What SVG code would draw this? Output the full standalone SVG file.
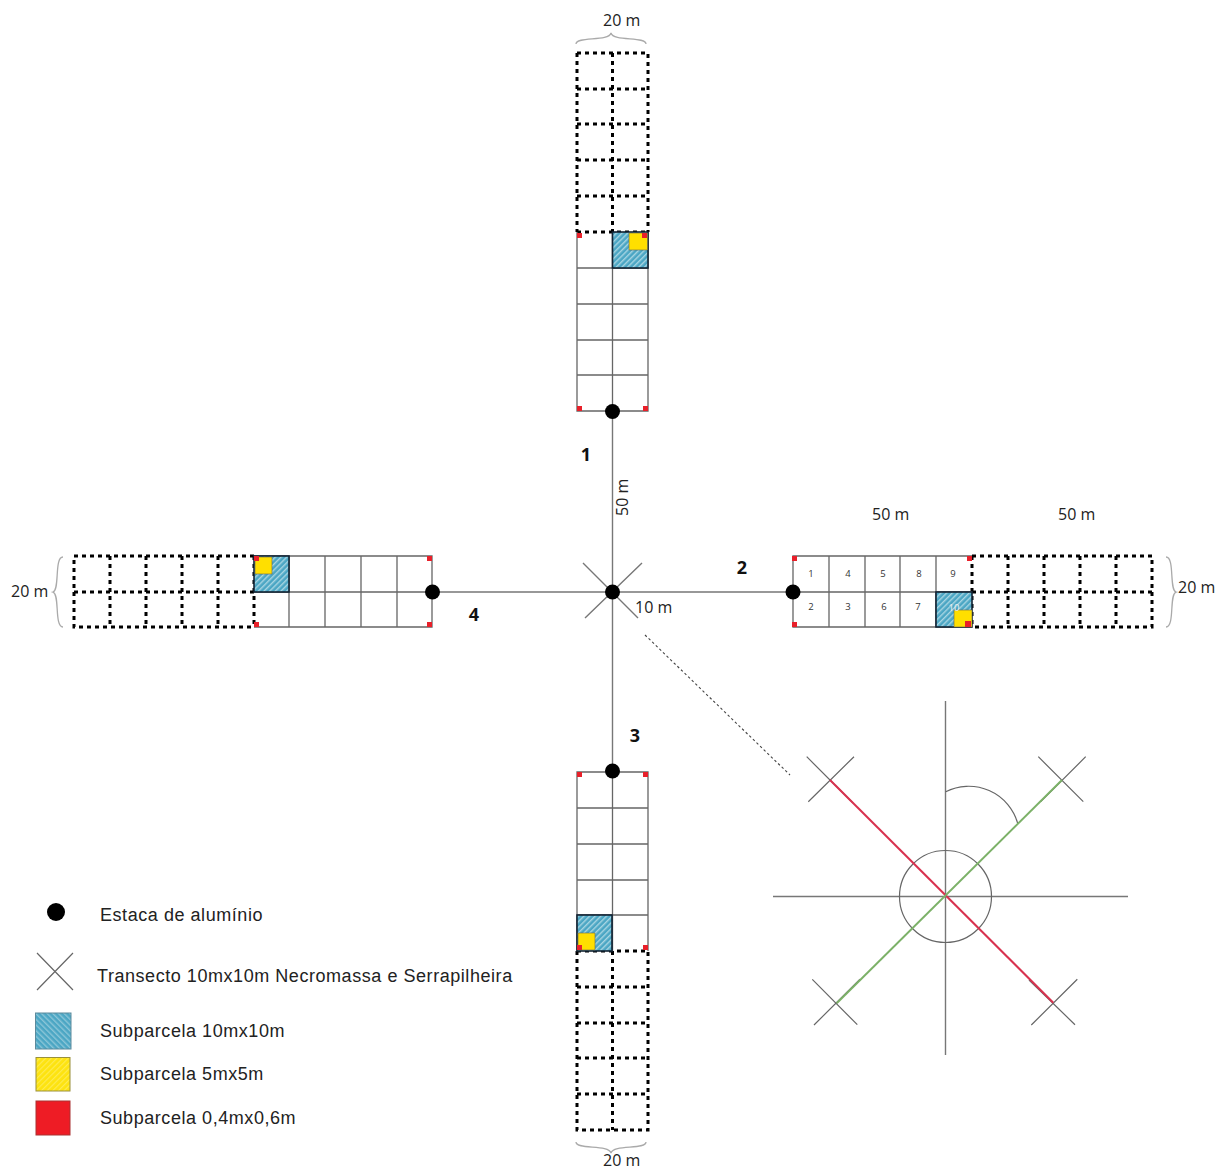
<svg xmlns="http://www.w3.org/2000/svg" width="1217" height="1169" viewBox="0 0 1217 1169">
<style>
.sol{fill:none;stroke:#666;stroke-width:1.3}
.dot{fill:none;stroke:#000;stroke-width:3;stroke-dasharray:4 4}
.ln{fill:none;stroke:#777;stroke-width:1.4}
.dk{fill:none;stroke:#666;stroke-width:1.2}
.br{fill:none;stroke:#aaa;stroke-width:1.3}
.blue{fill:url(#hb);stroke:#123;stroke-width:1.6}
.yel{fill:#ffdf00;stroke:#665;stroke-width:.6}
.red{fill:#e8202a}
.t{font-family:"Open Sans","Liberation Sans",sans-serif;font-size:16px;fill:#222}
.n{font-family:"Open Sans","Liberation Sans",sans-serif;font-size:9.5px;fill:#333;text-anchor:middle}
.b{font-family:"Open Sans","Liberation Sans",sans-serif;font-size:18px;font-weight:700;fill:#111;text-anchor:middle}
.l{font-family:"Liberation Sans",Arial,sans-serif;font-size:18px;letter-spacing:.55px;fill:#222}
</style>
<defs>
<pattern id="hb" width="4" height="4" patternUnits="userSpaceOnUse" patternTransform="rotate(45)"><rect width="4" height="4" fill="#4ba6c4"/><rect width="1.4" height="4" fill="#a9d6e3"/></pattern>
<pattern id="hbl" width="4" height="4" patternUnits="userSpaceOnUse" patternTransform="rotate(-45)"><rect width="4" height="4" fill="#4ba6c4"/><rect width="1.4" height="4" fill="#8cc6d8"/></pattern>
<pattern id="hy" width="4" height="4" patternUnits="userSpaceOnUse" patternTransform="rotate(45)"><rect width="4" height="4" fill="#fde30f"/><rect width="1.2" height="4" fill="#fdeb50"/></pattern>
</defs>
<g id="connectors">
<path class="ln" d="M612.5 411V771M432 592H793"/>
<path class="ln" d="M583 563L638 618M642 563L585 618"/>
<path d="M645 635L790 775" fill="none" stroke="#444" stroke-width="1.1" stroke-dasharray="2.5 2.5"/>
</g>
<g id="plot1">
<path class="dot" d="M577 53H648V232M577 53V232M612.5 53V232M577 89H648M577 124H648M577 160H648M577 196H648M577 232H648"/>
<path class="sol" d="M577 232V411H648V232M612.5 232V411M577 268H648M577 304H648M577 340H648M577 375H648"/>
<rect class="blue" x="612.5" y="232" width="35.5" height="36"/>
<rect class="yel" x="629" y="233" width="18.500" height="17"/>
<path class="red" d="M577 233h5v5h-5zM642 233h5v5h-5zM577 406h5v5h-5zM643 406h5v5h-5z"/>
</g>
<g id="plot2">
<path class="dot" d="M972 556H1152V627H972M972 556V627M1008 556V627M1044 556V627M1080 556V627M1116 556V627M972 592H1152"/>
<path class="sol" d="M972 556H793V627H972M829 556V627M865 556V627M900 556V627M936 556V627M793 592H972"/>
<rect class="blue" x="936" y="592" width="36" height="35"/>
<rect class="yel" x="954" y="610" width="18" height="17"/>
<path class="red" d="M792 556h5v5h-5zM967 556h5v5h-5zM792 622h5v5h-5zM965 621h6v6h-6z"/>
<text class="n" x="811" y="577">1</text><text class="n" x="848" y="577">4</text><text class="n" x="883" y="577">5</text><text class="n" x="919" y="577">8</text><text class="n" x="953" y="577">9</text>
<text class="n" x="811" y="610">2</text><text class="n" x="848" y="610">3</text><text class="n" x="884" y="610">6</text><text class="n" x="918" y="610">7</text><text class="n" x="954" y="611" style="fill:#eee">10</text>
</g>
<g id="plot3">
<path class="dot" d="M577 951V1130H648V951M612.5 951V1130M577 951H648M577 987H648M577 1023H648M577 1058H648M577 1094H648"/>
<path class="sol" d="M577 951V772H648V951M612.5 772V951M577 808H648M577 844H648M577 880H648M577 915H648"/>
<rect class="blue" x="577" y="915" width="35" height="36"/>
<rect class="yel" x="578" y="933" width="17" height="17"/>
<path class="red" d="M577 772h5v5h-5zM643 772h5v5h-5zM577 945h5v5h-5zM643 945h5v5h-5z"/>
</g>
<g id="plot4">
<path class="dot" d="M254 556H74V627H254M254 556V627M110 556V627M146 556V627M182 556V627M218 556V627M74 592H254"/>
<path class="sol" d="M254 556H432V627H254M289 556V627M325 556V627M361 556V627M397 556V627M254 592H432"/>
<rect class="blue" x="254" y="556" width="35" height="36"/>
<rect class="yel" x="255" y="557" width="17" height="17"/>
<path class="red" d="M254 556h5v5h-5zM427 556h5v5h-5zM254 622h5v5h-5zM427 622h5v5h-5z"/>
</g>
<g id="stakes" fill="#000">
<circle cx="612.500" cy="411.500" r="7.500"/>
<circle cx="793" cy="592" r="7.500"/>
<circle cx="612.500" cy="771" r="7.500"/>
<circle cx="432.500" cy="592" r="7.500"/>
<circle cx="612.500" cy="592" r="7.500"/>
</g>
<g id="braces">
<path class="br" d="M576 44C576 36 609 42 611 33C613 42 646 36 646 44"/>
<path class="br" d="M576 1142C576 1150 609 1144 611 1153C613 1144 646 1150 646 1142"/>
<path class="br" d="M63 557C54 557 60 590 53 592C60 594 54 627 63 627"/>
<path class="br" d="M1166 557C1175 557 1169 590 1176 592C1169 594 1175 627 1166 627"/>
</g>
<g id="labels">
<text class="t" x="603" y="26">20 m</text>
<text class="t" x="603" y="1166">20 m</text>
<text class="t" x="11" y="597">20 m</text>
<text class="t" x="1178" y="593">20 m</text>
<text class="t" x="872" y="520">50 m</text>
<text class="t" x="1058" y="520">50 m</text>
<text class="t" x="635" y="613">10 m</text>
<text class="t" transform="translate(628 516) rotate(-90)">50 m</text>
<text class="b" x="586" y="461">1</text>
<text class="b" x="742" y="574">2</text>
<text class="b" x="635" y="742">3</text>
<text class="b" x="474" y="621">4</text>
</g>
<g id="inset">
<path class="ln" d="M773 896.500H1128M945.500 701V1055"/>
<circle class="dk" cx="945.500" cy="896.500" r="46"/>
<path class="dk" d="M945.700 791.700A51 51 0 0 1 1017.700 823.300"/>
<path class="dk" d="M806.700 756.700L853 803M854 756.700L808.300 801.700M1038.300 756.700L1083.300 801.700M1085.700 756.700L1040.700 801.700M812.300 979.300L857.300 1024.700M860 979.300L814 1025M1077.300 979.300L1031.300 1025M1029 980L1075 1024.700"/>
<path d="M830 780L1053.300 1002.700" fill="none" stroke="#d8324f" stroke-width="2"/>
<path d="M1062 780L836.700 1003.300" fill="none" stroke="#7cb168" stroke-width="2"/>
</g>
<g id="legend">
<circle cx="56" cy="912" r="9"/>
<text class="l" x="100" y="921">Estaca de alumínio</text>
<path class="dk" d="M37 953L73 990M73 953L37 990"/>
<text class="l" x="97" y="982">Transecto 10mx10m Necromassa e Serrapilheira</text>
<rect x="35.500" y="1013" width="35.500" height="36" fill="url(#hbl)" stroke="#5c8a9c"/>
<text class="l" x="100" y="1037">Subparcela 10mx10m</text>
<rect x="36" y="1057.500" width="34" height="33.500" fill="url(#hy)" stroke="#99903c"/>
<text class="l" x="100" y="1080">Subparcela 5mx5m</text>
<rect x="36" y="1101" width="34" height="34" fill="#ee1c25" stroke="#a33"/>
<text class="l" x="100" y="1124">Subparcela 0,4mx0,6m</text>
</g>
</svg>
